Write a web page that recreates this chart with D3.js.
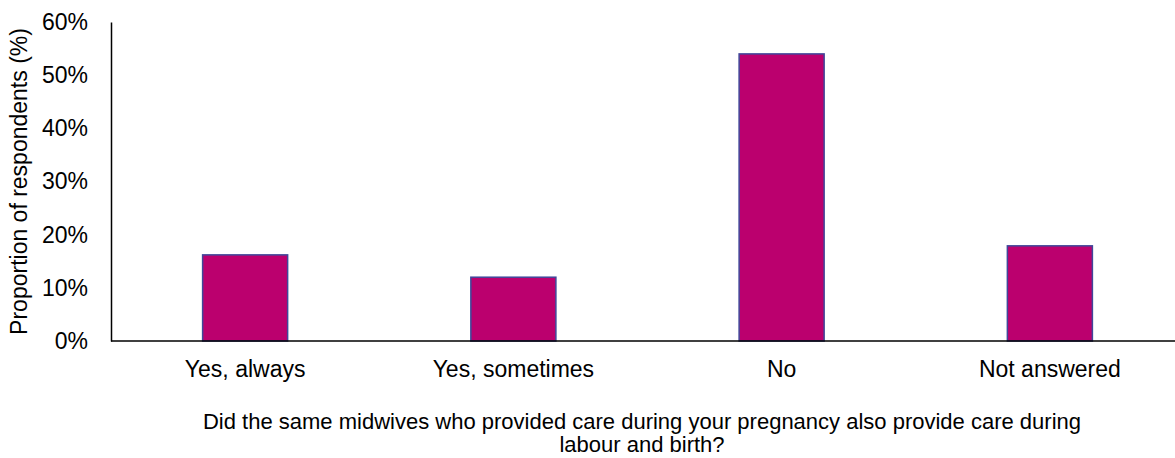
<!DOCTYPE html>
<html>
<head>
<meta charset="utf-8">
<script src="https://cdn.jsdelivr.net/npm/d3@7"></script>
<style>
  body { margin: 0; background: #fff; }
  text { font-family: "Liberation Sans", Arial, sans-serif; fill: #000; }
</style>
</head>
<body>
<div id="viz"></div>
<script>
var categories = ["Yes, always", "Yes, sometimes", "No", "Not answered"];
var values = [16.2, 12.0, 54.0, 17.9];
var yTicks = [0, 10, 20, 30, 40, 50, 60];
var xTitle = ["Did the same midwives who provided care during your pregnancy also provide care during",
              "labour and birth?"];
var yTitle = "Proportion of respondents (%)";

var W = 1175, H = 458;
var margin = {top: 22, right: 0, bottom: 117, left: 111};
var fs = 23;

var svg = d3.select("#viz").append("svg")
  .attr("width", W)
  .attr("height", H);

var x = d3.scaleBand()
  .domain(categories)
  .range([margin.left, 1184])
  .paddingInner(0.683)
  .paddingOuter(0.3415);

var y = d3.scaleLinear()
  .domain([0, 60])
  .range([H - margin.bottom, margin.top]);

// bars
svg.selectAll("rect.bar")
  .data(values)
  .enter()
.append("rect")
  .attr("class", "bar")
  .attr("x", function(d, i){return x(categories[i])})
  .attr("y", function(d){return y(d)})
  .attr("width", x.bandwidth())
  .attr("height", function(d){return y(0) - y(d)})
  .attr("fill", "#BB006E")
  .attr("stroke", "#40479A")
  .attr("stroke-width", 1.5);

// y axis
var yAxis = svg.append("g")
  .attr("transform", "translate(" + margin.left + ",0)")
  .call(d3.axisLeft(y).tickValues(yTicks).tickSize(0).tickPadding(23)
    .tickFormat(function(d){return d + "%"}));
yAxis.select(".domain").attr("stroke", "#000").attr("stroke-width", 1.5);
yAxis.selectAll("text")
  .attr("font-size", fs)
  .attr("font-family", "Liberation Sans, Arial, sans-serif");

// x axis
var xAxis = svg.append("g")
  .attr("transform", "translate(0," + y(0) + ")")
  .call(d3.axisBottom(x).tickSize(0).tickPadding(20));
xAxis.select(".domain")
  .attr("d", "M" + margin.left + ",0H" + W)
  .attr("stroke", "#000").attr("stroke-width", 1.5);
xAxis.selectAll("text")
  .attr("font-size", fs)
  .attr("font-family", "Liberation Sans, Arial, sans-serif");

// x title, a touch smaller so both lines fit
svg.append("g").selectAll("text")
  .data(xTitle)
  .enter()
.append("text")
  .attr("x", 642)
  .attr("y", function(d, i){return 429 + i * 23})
  .attr("text-anchor", "middle")
  .attr("font-size", 22)
  .text(function(d){return d});

// y title
svg.append("text")
  .attr("transform", "translate(27," + ((y(0) + y(60)) / 2) + ") rotate(-90)")
  .attr("text-anchor", "middle")
  .attr("font-size", fs)
  .text(yTitle);
</script>
</body>
</html>
